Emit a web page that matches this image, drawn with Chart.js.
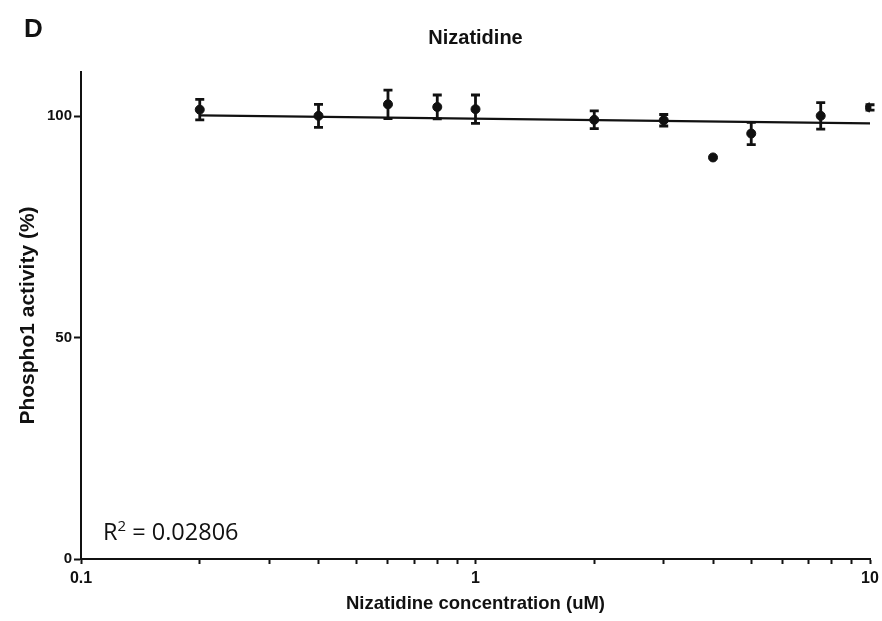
<!DOCTYPE html>
<html>
<head>
<meta charset="utf-8">
<script src="https://cdn.jsdelivr.net/npm/chart.js@4/dist/chart.umd.min.js"></script>
<style>
  html, body { margin: 0; padding: 0; background: #fff; }
  #wrap { width: 882px; height: 621px; position: relative; }
</style>
</head>
<body>
<div id="wrap"><canvas id="chart"></canvas></div>
<script>
// measured points (mean +/- SEM)
const concentrations = [0.2, 0.4, 0.6, 0.8, 1, 2, 3, 4, 5, 7.5, 10];
const activity = [101.5, 100.1, 102.7, 102.1, 101.6, 99.2, 99.1, 90.7, 96.1, 100.1, 102.0];
const sem = [2.3, 2.6, 3.2, 2.7, 3.2, 2.0, 1.3, 0, 2.5, 3.0, 0.6];

// fitted line
const fitX = [0.2, 10];
const fitY = [100.2, 98.4];

const xTicks = [0.1, 0.2, 0.3, 0.4, 0.5, 0.6, 0.7, 0.8, 0.9, 1, 2, 3, 4, 5, 6, 7, 8, 9, 10];
const xLabels = [0.1, 1, 10];
const yTicks = [0, 50, 100];

const FONT = "'Liberation Sans', Arial, sans-serif";
const INK = "#111";

const errorBars = {
  id: "errorBars",
  afterDatasetsDraw(chart) {
    const ctx = chart.ctx;
    const x = chart.scales.x, y = chart.scales.y;
    ctx.save();
    ctx.strokeStyle = INK;
    ctx.lineWidth = 2.8;
    concentrations.forEach((c, i) => {
      if (!sem[i]) return;
      const px = x.getPixelForValue(c);
      const top = y.getPixelForValue(activity[i] + sem[i]);
      const bot = y.getPixelForValue(activity[i] - sem[i]);
      ctx.beginPath();
      ctx.moveTo(px, top); ctx.lineTo(px, bot);
      ctx.moveTo(px - 4.5, top); ctx.lineTo(px + 4.5, top);
      ctx.moveTo(px - 4.5, bot); ctx.lineTo(px + 4.5, bot);
      ctx.stroke();
    });
    ctx.restore();
  }
};

const extraText = {
  id: "extraText",
  afterDraw(chart) {
    const ctx = chart.ctx;
    const area = chart.chartArea;
    ctx.save();
    ctx.fillStyle = INK;
    ctx.textBaseline = "alphabetic";
    ctx.font = "bold 26px " + FONT;
    ctx.fillText("D", 24, 37);

    // title centred over the plot area
    ctx.font = "bold 20px " + FONT;
    ctx.textAlign = "center";
    ctx.fillText("Nizatidine", (area.left + area.right) / 2, 44);
    ctx.textAlign = "left";

    // R squared note
    let tx = area.left + 22;
    const ty = area.bottom - 19;
    ctx.font = "23.5px 'Open Sans', sans-serif";
    ctx.fillText("R", tx, ty);
    tx += ctx.measureText("R").width;
    ctx.font = "15px 'Open Sans', sans-serif";
    ctx.fillText("2", tx, ty - 9);
    tx += ctx.measureText("2").width;
    ctx.font = "23.5px 'Open Sans', sans-serif";
    ctx.fillText(" = 0.02806", tx, ty);
    ctx.restore();
  }
};

new Chart(document.getElementById("chart"), {
  type: "scatter",
  data: {
    datasets: [
      {
        data: concentrations.map((c, i) => ({ x: c, y: activity[i] })),
        backgroundColor: INK,
        borderColor: INK,
        pointRadius: 4.5,
        showLine: false,
        order: 1
      },
      {
        type: "line",
        data: fitX.map((c, i) => ({ x: c, y: fitY[i] })),
        borderColor: INK,
        borderWidth: 2.2,
        pointRadius: 0,
        fill: false,
        order: 2
      }
    ]
  },
  options: {
    responsive: true,
    maintainAspectRatio: false,
    animation: false,
    layout: { padding: { left: 0, right: 12, top: 72, bottom: 0 } },
    plugins: {
      legend: { display: false },
      tooltip: { enabled: false },
      title: { display: false }
    },
    scales: {
      x: {
        type: "logarithmic",
        min: 0.1,
        max: 10,
        afterBuildTicks: (axis) => { axis.ticks = xTicks.map(v => ({ value: v })); },
        afterFit: (axis) => { axis.height = 62; axis.paddingRight = 0; },
        ticks: {
          autoSkip: false,
          maxRotation: 0,
          padding: 5,
          color: INK,
          font: { family: FONT, size: 16, weight: "bold" },
          callback: (v) => xLabels.includes(v) ? String(v) : ""
        },
        grid: { drawOnChartArea: false, drawTicks: true, tickLength: 5, color: INK, tickWidth: 2 },
        border: { display: true, color: INK, width: 2 },
        title: {
          display: true,
          text: "Nizatidine concentration (uM)",
          color: INK,
          font: { family: FONT, size: 18.5, weight: "bold" },
          padding: { top: 0, bottom: 6 }
        }
      },
      y: {
        min: 0,
        max: 110,
        afterBuildTicks: (axis) => { axis.ticks = yTicks.map(v => ({ value: v })); },
        afterFit: (axis) => { axis.width = 81; },
        ticks: {
          padding: 2,
          color: INK,
          font: { family: FONT, size: 15, weight: "bold" }
        },
        grid: { drawOnChartArea: false, drawTicks: true, tickLength: 7, color: INK, tickWidth: 2 },
        border: { display: true, color: INK, width: 2 },
        title: {
          display: true,
          text: "Phospho1 activity (%)",
          color: INK,
          font: { family: FONT, size: 21, weight: "bold" },
          padding: { top: 16, bottom: 0 }
        }
      }
    }
  },
  plugins: [errorBars, extraText]
});
</script>
</body>
</html>
